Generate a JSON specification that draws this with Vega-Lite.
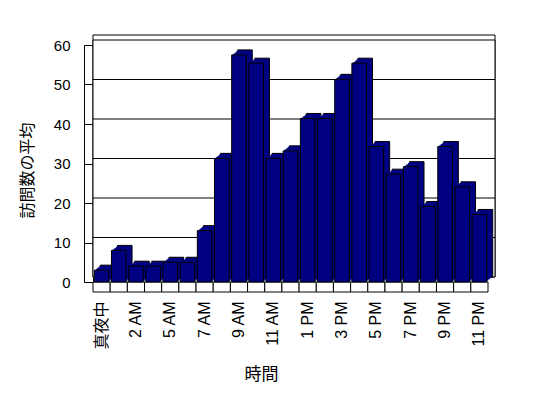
{
  "$schema": "https://vega.github.io/schema/vega-lite/v6.json",
  "width": 395,
  "height": 237,
  "autosize": "none",
  "padding": {"left": 93, "top": 45, "right": 60, "bottom": 116},
  "background": "white",
  "config": {
    "view": {"stroke": null},
    "font": "Liberation Sans",
    "axis": {"labelColor": "black", "titleColor": "black", "domainColor": "black", "tickColor": "black", "labelFontSize": 15, "titleFontWeight": "normal"},
    "axisX": {
      "labelAngle": -90, "labelPadding": 19, "ticks": false, "domain": false,
      "labelFont": "Liberation Sans, Noto Sans CJK JP", "labelFontSize": 16,
      "titleFont": "Noto Sans CJK JP", "titleFontSize": 17, "titlePadding": 17, "titleX": 168
    }
  },
  "datasets": {
    "visits": [
      {"hour": "真夜中", "avg": 3},
      {"hour": "1 AM", "avg": 8},
      {"hour": "2 AM", "avg": 4},
      {"hour": "3 AM", "avg": 4},
      {"hour": "5 AM", "avg": 5},
      {"hour": "6 AM", "avg": 5},
      {"hour": "7 AM", "avg": 13},
      {"hour": "8 AM", "avg": 31.3},
      {"hour": "9 AM", "avg": 57.5},
      {"hour": "10 AM", "avg": 55.4},
      {"hour": "11 AM", "avg": 31.3},
      {"hour": "正午", "avg": 33.2},
      {"hour": "1 PM", "avg": 41.4},
      {"hour": "2 PM", "avg": 41.4},
      {"hour": "3 PM", "avg": 51.3},
      {"hour": "4 PM", "avg": 55.4},
      {"hour": "5 PM", "avg": 34.3},
      {"hour": "6 PM", "avg": 27.3},
      {"hour": "7 PM", "avg": 29.2},
      {"hour": "8 PM", "avg": 19.1},
      {"hour": "9 PM", "avg": 34.3},
      {"hour": "10 PM", "avg": 24.1},
      {"hour": "11 PM", "avg": 17.1}
    ],
    "grid": [{"v": 10}, {"v": 20}, {"v": 30}, {"v": 40}, {"v": 50}],
    "one": [{"k": 1}]
  },
  "data": {"name": "visits"},
  "resolve": {"axis": {"y": "independent"}},
  "layer": [
    {
      "data": {"name": "one"},
      "mark": {"type": "rect", "fill": "white", "stroke": "black", "strokeWidth": 1, "xOffset": 7, "x2Offset": 14, "yOffset": -5, "y2Offset": -10},
      "encoding": {
        "y": {"datum": 0, "type": "quantitative", "axis": null},
        "y2": {"datum": 60}
      }
    },
    {
      "data": {"name": "one"},
      "mark": {"type": "rect", "fill": "white", "stroke": "black", "strokeWidth": 1, "xOffset": 7, "x2Offset": 7, "yOffset": -5, "y2Offset": -5},
      "encoding": {
        "y": {"datum": 0, "type": "quantitative", "axis": null},
        "y2": {"datum": 60}
      }
    },
    {
      "data": {"name": "grid"},
      "mark": {"type": "rule", "stroke": "black", "strokeWidth": 1, "xOffset": 7, "x2Offset": 7, "yOffset": -5, "y2Offset": -5},
      "encoding": {
        "y": {"field": "v", "type": "quantitative", "axis": {"orient": "left", "offset": 0, "labels": false, "title": null, "grid": false, "domain": true, "ticks": true, "tickSize": 9, "values": [0, 10, 20, 30, 40, 50, 60]}}
      }
    },
    {
      "mark": {"type": "bar", "fill": "white", "stroke": "black", "strokeWidth": 1, "width": {"band": 1}, "y2Offset": 10},
      "encoding": {
        "x": {"field": "hour", "type": "nominal", "sort": null, "title": "時間",
          "axis": {"values": ["真夜中", "2 AM", "5 AM", "7 AM", "9 AM", "11 AM", "1 PM", "3 PM", "5 PM", "7 PM", "9 PM", "11 PM"]}},
        "y": {"datum": 0, "type": "quantitative", "axis": null},
        "y2": {"datum": 0}
      }
    },
    {
      "mark": {"type": "bar", "fill": "#000080", "stroke": "black", "strokeWidth": 1, "width": {"band": 0.85}, "xOffset": 6, "yOffset": -5, "y2Offset": -5},
      "encoding": {
        "x": {"field": "hour", "type": "nominal", "sort": null, "title": "時間",
          "axis": {"values": ["真夜中", "2 AM", "5 AM", "7 AM", "9 AM", "11 AM", "1 PM", "3 PM", "5 PM", "7 PM", "9 PM", "11 PM"]}},
        "y": {"field": "avg", "type": "quantitative", "axis": null}
      }
    },
    {
      "mark": {"type": "bar", "fill": "#000080", "width": {"band": 0.85}, "xOffset": 4.5, "yOffset": -3.75, "y2Offset": -3.75},
      "encoding": {
        "x": {"field": "hour", "type": "nominal", "sort": null, "title": "時間",
          "axis": {"values": ["真夜中", "2 AM", "5 AM", "7 AM", "9 AM", "11 AM", "1 PM", "3 PM", "5 PM", "7 PM", "9 PM", "11 PM"]}},
        "y": {"field": "avg", "type": "quantitative", "axis": null}
      }
    },
    {
      "mark": {"type": "bar", "fill": "#000080", "width": {"band": 0.85}, "xOffset": 3, "yOffset": -2.5, "y2Offset": -2.5},
      "encoding": {
        "x": {"field": "hour", "type": "nominal", "sort": null, "title": "時間",
          "axis": {"values": ["真夜中", "2 AM", "5 AM", "7 AM", "9 AM", "11 AM", "1 PM", "3 PM", "5 PM", "7 PM", "9 PM", "11 PM"]}},
        "y": {"field": "avg", "type": "quantitative", "axis": null}
      }
    },
    {
      "mark": {"type": "bar", "fill": "#000080", "width": {"band": 0.85}, "xOffset": 1.5, "yOffset": -1.25, "y2Offset": -1.25},
      "encoding": {
        "x": {"field": "hour", "type": "nominal", "sort": null, "title": "時間",
          "axis": {"values": ["真夜中", "2 AM", "5 AM", "7 AM", "9 AM", "11 AM", "1 PM", "3 PM", "5 PM", "7 PM", "9 PM", "11 PM"]}},
        "y": {"field": "avg", "type": "quantitative", "axis": null}
      }
    },
    {
      "mark": {"type": "bar", "fill": "#000080", "stroke": "black", "strokeWidth": 1, "width": {"band": 0.85}},
      "encoding": {
        "x": {
          "field": "hour", "type": "nominal", "sort": null, "title": "時間",
          "scale": {"paddingInner": 0, "paddingOuter": 0},
          "axis": {"values": ["真夜中", "2 AM", "5 AM", "7 AM", "9 AM", "11 AM", "1 PM", "3 PM", "5 PM", "7 PM", "9 PM", "11 PM"]}
        },
        "y": {
          "field": "avg", "type": "quantitative",
          "scale": {"domain": [0, 60], "nice": false, "zero": true},
          "axis": {
            "orient": "left", "offset": 9, "values": [0, 10, 20, 30, 40, 50, 60],
            "grid": false, "ticks": false, "tickSize": 0, "domain": true, "labelPadding": 14,
            "title": "訪問数の平均", "titleFont": "Noto Sans CJK JP", "titleFontSize": 16, "titlePadding": 18, "titleY": 125
          }
        }
      }
    }
  ]
}
